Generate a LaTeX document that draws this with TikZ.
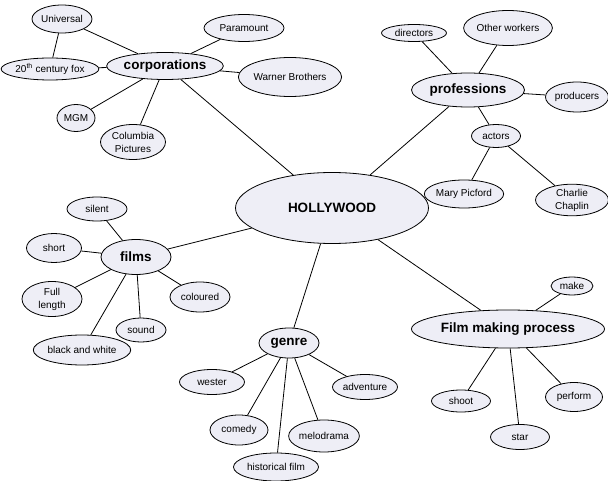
\documentclass[tikz,border=0pt]{standalone}
\usepackage{fontspec}
\setmainfont{Liberation Sans}
\usepackage{tikz}
\usetikzlibrary{shapes.geometric}
\definecolor{bubble}{RGB}{238,238,246}

\begin{document}
\begin{tikzpicture}[
  x=1pt, y=-1pt,
  leaf/.style={ellipse, draw, fill=bubble, line width=0.8pt, inner sep=0pt, align=center, font=\fontsize{10}{13}\selectfont},
  hub/.style={leaf, font=\fontsize{13.5}{16}\selectfont\bfseries},
  link/.style={line width=0.8pt},
]
\useasboundingbox (0,0) rectangle (608,481);

\node[hub, minimum width=193, minimum height=71] (hollywood) at (332,208) {HOLLYWOOD};

\node[hub, minimum width=109, minimum height=27] (corp) at (165,66) {corporations};
\node[leaf, minimum width=60, minimum height=28] (universal) at (62,19) {Universal};
\node[leaf, minimum width=87, minimum height=22] (fox) at (50,69) {20\textsuperscript{th} century fox};
\node[leaf, minimum width=80, minimum height=27] (paramount) at (244,28) {Paramount};
\node[leaf, minimum width=93, minimum height=39] (warner) at (290,77) {Warner Brothers};
\node[leaf, minimum width=38, minimum height=27] (mgm) at (76,118) {MGM};
\node[leaf, minimum width=65, minimum height=35] (columbia) at (133,142) {Columbia\\Pictures};

\node[hub, minimum width=113, minimum height=34] (prof) at (468,90) {professions};
\node[leaf, minimum width=65, minimum height=17] (directors) at (414,33) {directors};
\node[leaf, minimum width=74, minimum height=35] (others) at (508,28) {Other workers};
\node[leaf, minimum width=63, minimum height=30] (producers) at (577,97) {producers};
\node[leaf, minimum width=49, minimum height=23] (actors) at (496,136) {actors};
\node[leaf, minimum width=74, minimum height=28] (mary) at (464,194) {Mary Picford};
\node[leaf, minimum width=73, minimum height=30] (charlie) at (572,200) {Charlie\\Chaplin};

\node[hub, minimum width=70, minimum height=35] (films) at (136,257) {films};
\node[leaf, minimum width=60, minimum height=24] (silent) at (97,209) {silent};
\node[leaf, minimum width=55, minimum height=29] (short) at (54,248) {short};
\node[leaf, minimum width=60, minimum height=35] (full) at (52,299) {Full\\length};
\node[leaf, minimum width=60, minimum height=30] (coloured) at (200,297) {coloured};
\node[leaf, minimum width=50, minimum height=24] (sound) at (141,330) {sound};
\node[leaf, minimum width=79, minimum height=30] (bw) at (82,350) {black and white};

\node[hub, minimum width=60, minimum height=30] (genre) at (289,343) {genre};
\node[leaf, minimum width=65, minimum height=25] (wester) at (212,382) {wester};
\node[leaf, minimum width=65, minimum height=25] (adventure) at (365,387) {adventure};
\node[leaf, minimum width=58, minimum height=30] (comedy) at (239,430) {comedy};
\node[leaf, minimum width=62, minimum height=32] (melodrama) at (324,436) {melodrama};
\node[leaf, minimum width=85, minimum height=28] (historical) at (276,467) {historical film};

\node[hub, minimum width=193, minimum height=38] (process) at (508,329) {Film making process};
\node[leaf, minimum width=42, minimum height=18] (make) at (572,286) {make};
\node[leaf, minimum width=59, minimum height=22] (shoot) at (461,401) {shoot};
\node[leaf, minimum width=57, minimum height=29] (perform) at (574,397) {perform};
\node[leaf, minimum width=59, minimum height=25] (star) at (520,437) {star};

\foreach \n in {universal, fox, paramount, warner, mgm, columbia, hollywood}
  \draw[link] (corp) -- (\n);
\draw[link] (universal) -- (fox);
\foreach \n in {directors, others, producers, actors, hollywood}
  \draw[link] (prof) -- (\n);
\draw[link] (actors) -- (mary);
\draw[link] (actors) -- (charlie);
\foreach \n in {silent, short, full, coloured, sound, bw, hollywood}
  \draw[link] (films) -- (\n);
\foreach \n in {wester, adventure, comedy, melodrama, historical, hollywood}
  \draw[link] (genre) -- (\n);
\foreach \n in {make, shoot, perform, star, hollywood}
  \draw[link] (process) -- (\n);
\end{tikzpicture}
\end{document}
